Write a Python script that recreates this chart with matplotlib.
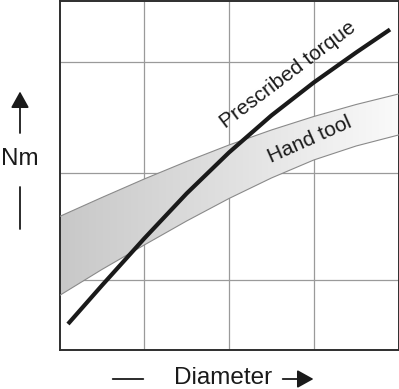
import numpy as np
import matplotlib
matplotlib.use("Agg")
import matplotlib.pyplot as plt
from matplotlib.colors import LinearSegmentedColormap

plt.rcParams["font.family"] = ["Liberation Sans", "DejaVu Sans"]

# grid / limits (grid units along x, "Nm" units along y)
x_grid = [1, 2, 3]
y_grid = [0.70, 1.77, 2.88]
x_lim = (0, 4)
y_lim = (0, 3.49)

# prescribed torque curve
torque_x = [0.1, 0.5, 1.0, 1.5, 2.0, 2.5, 3.0, 3.5, 3.9]
torque_y = [0.255, 0.64, 1.11, 1.56, 1.97, 2.34, 2.67, 2.97, 3.20]

# hand tool band
band_x = [0, 0.5, 1.0, 1.5, 2.0, 2.5, 3.0, 3.5, 4.0]
band_hi = [1.33, 1.52, 1.705, 1.88, 2.045, 2.195, 2.33, 2.45, 2.555]
band_lo = [0.54, 0.80, 1.045, 1.285, 1.51, 1.715, 1.895, 2.035, 2.145]

ink = "#1a1a1a"
head = "-|>,head_length=0.45,head_width=0.25"

fig = plt.figure(figsize=(3.99, 3.89), dpi=100)
ax = fig.add_axes([59.5 / 399, 1 - 349.5 / 389, 339 / 399, 349 / 389])
ax.set_xlim(*x_lim)
ax.set_ylim(*y_lim)
ax.set_xticks([])
ax.set_yticks([])
for s in ax.spines.values():
    s.set_color("#2e2e2e")
    s.set_linewidth(1.4)

for gx in x_grid:
    ax.axvline(gx, color="#9a9a9a", lw=0.9, zorder=1)
for gy in y_grid:
    ax.axhline(gy, color="#9a9a9a", lw=0.9, zorder=1)

# band with left-to-right gradient
poly = ax.fill_between(band_x, band_lo, band_hi, color="none", lw=0)
cmap = LinearSegmentedColormap.from_list("band", ["#c8c8c8", "#e0e0e0", "#fafafa"])
grad = np.linspace(0, 1, 256).reshape(1, -1)
im = ax.imshow(grad, cmap=cmap, aspect="auto", extent=[0, 4, 0, 3.49],
               origin="lower", zorder=2)
path = poly.get_paths()[0]
im.set_clip_path(path, transform=ax.transData)
ax.plot(band_x, band_hi, color="#8a8a8a", lw=0.8, zorder=3)
ax.plot(band_x, band_lo, color="#8a8a8a", lw=0.8, zorder=3)
ax.set_xlim(*x_lim)
ax.set_ylim(*y_lim)

ax.plot(torque_x, torque_y, color=ink, lw=3.0, solid_capstyle="butt",
        solid_joinstyle="round", zorder=4)

ax.text(2.70, 2.745, "Prescribed torque", rotation=37, rotation_mode="anchor",
        ha="center", va="center", fontsize=15, color=ink, zorder=5)
ax.text(2.956, 2.095, "Hand tool", rotation=24, rotation_mode="anchor",
        ha="center", va="center", fontsize=15, color=ink, zorder=5)

# axis labels with arrows
fig.text(19.5 / 399, 1 - 159 / 389, "Nm", ha="center", va="center",
         fontsize=17.5, color=ink)
ax.annotate("", xy=(20, 389 - 91.5), xytext=(20, 389 - 133),
            xycoords="figure pixels", textcoords="figure pixels",
            arrowprops=dict(arrowstyle=head, color=ink, lw=1.3,
                            mutation_scale=22, shrinkA=0, shrinkB=0))
ax.annotate("", xy=(20, 389 - 187), xytext=(20, 389 - 229),
            xycoords="figure pixels", textcoords="figure pixels",
            arrowprops=dict(arrowstyle="-", color=ink, lw=1.3,
                            shrinkA=0, shrinkB=0))

fig.text(222.7 / 399, 1 - 378 / 389, "Diameter", ha="center", va="center",
         fontsize=17.5, color=ink)
ax.annotate("", xy=(143.3, 389 - 379), xytext=(112.7, 389 - 379),
            xycoords="figure pixels", textcoords="figure pixels",
            arrowprops=dict(arrowstyle="-", color=ink, lw=1.3,
                            shrinkA=0, shrinkB=0))
ax.annotate("", xy=(313.5, 389 - 379), xytext=(282.7, 389 - 379),
            xycoords="figure pixels", textcoords="figure pixels",
            arrowprops=dict(arrowstyle=head, color=ink, lw=1.3,
                            mutation_scale=22, shrinkA=0, shrinkB=0))

fig.savefig("out.png", dpi=100)
